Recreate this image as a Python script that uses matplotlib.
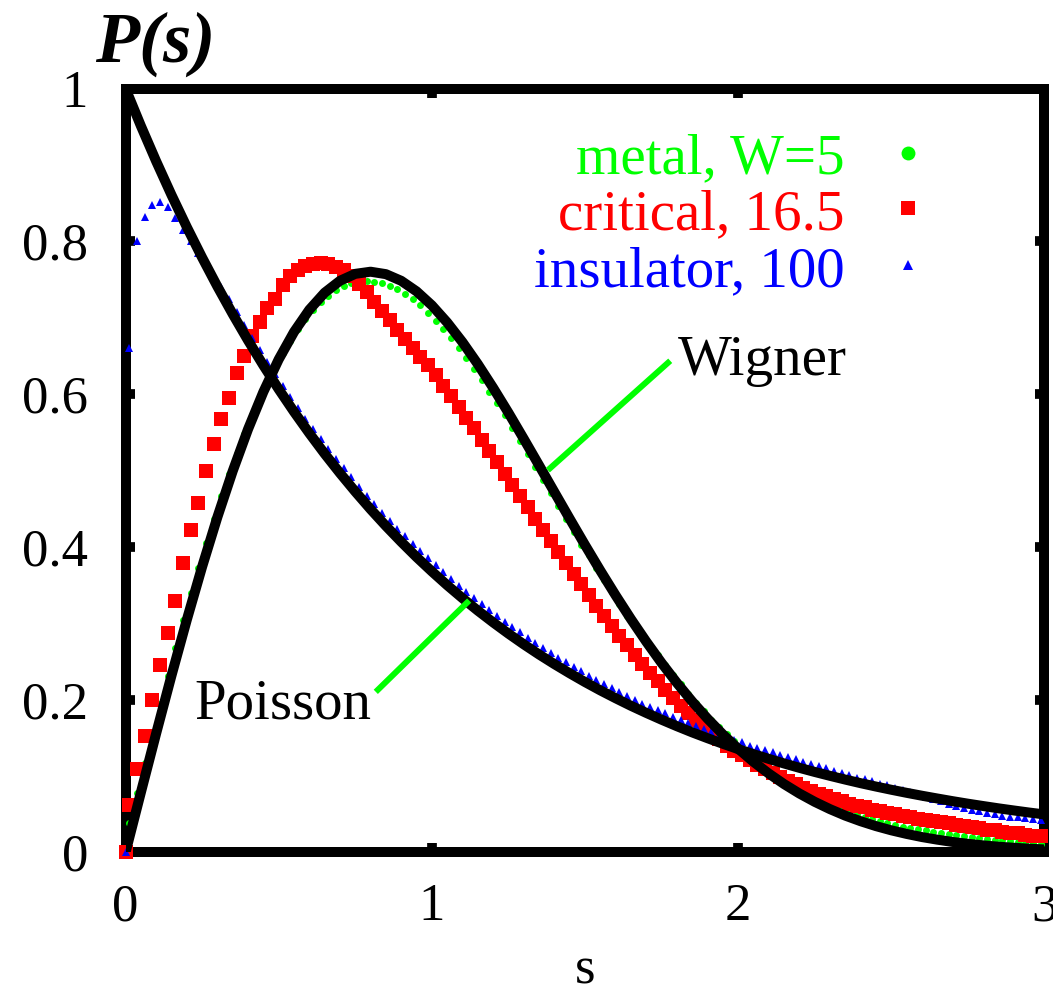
import numpy as np
import matplotlib
matplotlib.use("Agg")
import matplotlib.pyplot as plt

plt.rcParams['font.family'] = ['Liberation Serif', 'DejaVu Serif']

# ---------------- data ----------------
# histogram bins: s = 0 plus bin centres 0.0125, 0.0375, ..., 2.9875
s_bins = np.concatenate([[0.0], np.round(0.0125 + 0.025 * np.arange(120), 4)])

metal = [0.0,
    0.039, 0.078, 0.117, 0.156, 0.194, 0.231, 0.268, 0.304, 0.339, 0.373,
    0.405, 0.436, 0.466, 0.495, 0.522, 0.548, 0.572, 0.595, 0.616, 0.636,
    0.654, 0.670, 0.685, 0.698, 0.710, 0.720, 0.729, 0.736, 0.741, 0.745,
    0.747, 0.748, 0.747, 0.745, 0.741, 0.737, 0.731, 0.724, 0.716, 0.706,
    0.696, 0.685, 0.673, 0.660, 0.647, 0.633, 0.618, 0.603, 0.588, 0.572,
    0.556, 0.539, 0.522, 0.505, 0.488, 0.471, 0.454, 0.437, 0.420, 0.403,
    0.390, 0.373, 0.357, 0.341, 0.325, 0.310, 0.296, 0.282, 0.270, 0.258,
    0.245, 0.232, 0.220, 0.208, 0.196, 0.185, 0.174, 0.164, 0.155, 0.146,
    0.137, 0.129, 0.121, 0.113, 0.106, 0.099, 0.093, 0.087, 0.081, 0.076,
    0.071, 0.066, 0.062, 0.058, 0.054, 0.050, 0.047, 0.044, 0.041, 0.038,
    0.036, 0.034, 0.032, 0.031, 0.029, 0.027, 0.026, 0.024, 0.023, 0.022,
    0.020, 0.019, 0.018, 0.017, 0.016, 0.015, 0.014, 0.013, 0.012, 0.011]

critical = [0.0,
    0.062, 0.109, 0.153, 0.199, 0.245, 0.287, 0.329, 0.379, 0.422, 0.457,
    0.499, 0.535, 0.568, 0.595, 0.628, 0.650, 0.676, 0.695, 0.713, 0.725,
    0.743, 0.754, 0.762, 0.768, 0.770, 0.771, 0.770, 0.767, 0.762, 0.754,
    0.744, 0.733, 0.721, 0.709, 0.697, 0.684, 0.672, 0.660, 0.649, 0.638,
    0.625, 0.611, 0.597, 0.583, 0.569, 0.555, 0.540, 0.526, 0.511, 0.496,
    0.481, 0.466, 0.452, 0.437, 0.422, 0.408, 0.393, 0.379, 0.365, 0.351,
    0.337, 0.323, 0.310, 0.297, 0.284, 0.271, 0.259, 0.247, 0.235, 0.224,
    0.213, 0.202, 0.192, 0.182, 0.173, 0.164, 0.156, 0.148, 0.140, 0.133,
    0.127, 0.121, 0.115, 0.109, 0.104, 0.099, 0.094, 0.090, 0.085, 0.081,
    0.077, 0.074, 0.070, 0.067, 0.064, 0.061, 0.059, 0.056, 0.054, 0.052,
    0.050, 0.048, 0.046, 0.044, 0.043, 0.041, 0.040, 0.038, 0.036, 0.035,
    0.033, 0.032, 0.030, 0.029, 0.027, 0.026, 0.025, 0.023, 0.022, 0.021]

insulator = [0.0,
    0.660, 0.800, 0.832, 0.848, 0.852, 0.845, 0.830, 0.815, 0.800, 0.785,
    0.770, 0.755, 0.740, 0.724, 0.708, 0.691, 0.674, 0.658, 0.642, 0.626,
    0.611, 0.596, 0.582, 0.568, 0.554, 0.541, 0.528, 0.515, 0.503, 0.491,
    0.479, 0.467, 0.456, 0.445, 0.434, 0.424, 0.414, 0.404, 0.394, 0.385,
    0.376, 0.367, 0.358, 0.349, 0.341, 0.333, 0.325, 0.317, 0.309, 0.302,
    0.295, 0.288, 0.281, 0.274, 0.268, 0.261, 0.255, 0.249, 0.243, 0.237,
    0.231, 0.226, 0.220, 0.215, 0.210, 0.205, 0.200, 0.195, 0.191, 0.186,
    0.182, 0.178, 0.174, 0.170, 0.166, 0.162, 0.158, 0.154, 0.151, 0.147,
    0.144, 0.140, 0.137, 0.134, 0.131, 0.128, 0.125, 0.122, 0.119, 0.116,
    0.113, 0.110, 0.107, 0.104, 0.101, 0.098, 0.096, 0.093, 0.090, 0.088,
    0.085, 0.082, 0.079, 0.076, 0.073, 0.070, 0.067, 0.064, 0.061, 0.058,
    0.056, 0.054, 0.052, 0.050, 0.048, 0.047, 0.046, 0.045, 0.044, 0.043]

# reference curves, sampled every 0.05 in s
s_curve = np.round(0.05 * np.arange(61), 2)
wigner = [
    0.0000, 0.0784, 0.1558, 0.2315, 0.3044, 0.3739, 0.4391, 0.4993, 0.5541, 0.6029,
    0.6454, 0.6813, 0.7104, 0.7327, 0.7483, 0.7574, 0.7602, 0.7570, 0.7483, 0.7345,
    0.7162, 0.6938, 0.6680, 0.6393, 0.6083, 0.5756, 0.5415, 0.5068, 0.4718, 0.4369,
    0.4025, 0.3690, 0.3366, 0.3055, 0.2760, 0.2481, 0.2220, 0.1976, 0.1752, 0.1546,
    0.1358, 0.1187, 0.1033, 0.0895, 0.0772, 0.0663, 0.0567, 0.0482, 0.0409, 0.0345,
    0.0290, 0.0243, 0.0202, 0.0168, 0.0138, 0.0114, 0.0093, 0.0076, 0.0062, 0.0050,
    0.0040]
poisson = [
    1.0000, 0.9512, 0.9048, 0.8607, 0.8187, 0.7788, 0.7408, 0.7047, 0.6703, 0.6376,
    0.6065, 0.5769, 0.5488, 0.5220, 0.4966, 0.4724, 0.4493, 0.4274, 0.4066, 0.3867,
    0.3679, 0.3499, 0.3329, 0.3166, 0.3012, 0.2865, 0.2725, 0.2592, 0.2466, 0.2346,
    0.2231, 0.2122, 0.2019, 0.1920, 0.1827, 0.1738, 0.1653, 0.1572, 0.1496, 0.1423,
    0.1353, 0.1287, 0.1225, 0.1165, 0.1108, 0.1054, 0.1003, 0.0954, 0.0907, 0.0863,
    0.0821, 0.0781, 0.0743, 0.0707, 0.0672, 0.0639, 0.0608, 0.0578, 0.0550, 0.0523,
    0.0498]

labels = ['metal, W=5', 'critical, 16.5', 'insulator, 100']
colors = ['#00ff00', '#ff0000', '#0000ff']
markers = ['o', 's', '^']
msizes = [5, 9.5, 6]
key_sizes = [10, 10, 7]

x_ticks = [0, 1, 2, 3]
y_ticks = [0, 0.2, 0.4, 0.6, 0.8, 1]

# ---------------- figure ----------------
fig = plt.figure(figsize=(10.53, 9.9), dpi=100)
ax = fig.add_axes([0.1192, 0.1389, 0.9919 - 0.1192, 0.9106 - 0.1389])

for ys, c, m, ms in zip([metal, critical, insulator], colors, markers, msizes):
    ax.plot(s_bins, ys, ls='none', marker=m, ms=ms, color=c, mec=c,
            mew=0, zorder=2.6, clip_on=False)

ax.plot(s_curve, wigner, color='black', lw=7.2, solid_capstyle='butt', zorder=3)
ax.plot(s_curve, poisson, color='black', lw=7.2, solid_capstyle='butt', zorder=3)

# pointers from the labels to the curves
ax.plot([1.771, 1.386], [0.641, 0.503], color='#00ff00', lw=4.3, zorder=4)
ax.plot([0.824, 1.115], [0.213, 0.327], color='#00ff00', lw=4.3, zorder=4)
ax.text(1.804, 0.625, 'Wigner', fontsize=41, ha='left', va='baseline')
ax.text(0.224, 0.176, 'Poisson', fontsize=41, ha='left', va='baseline')

# key, right-aligned text with marker to the right
key_y = [0.889, 0.816, 0.7415]
for lab, c, m, ks, yy in zip(labels, colors, markers, key_sizes, key_y):
    ax.text(0.782, yy, lab, color=c, fontsize=41, ha='right', va='baseline',
            transform=ax.transAxes)
    ax.plot([0.852], [yy + 0.027], ls='none', marker=m, ms=ks, color=c, mew=0,
            transform=ax.transAxes, clip_on=False)

ax.set_xlim(0, 3)
ax.set_ylim(0, 1)
ax.set_xticks(x_ticks)
ax.set_xticklabels([f'{v:g}' for v in x_ticks])
ax.set_yticks(y_ticks)
ax.set_yticklabels([f'{v:g}' for v in y_ticks])
ax.tick_params(direction='in', length=6.5, width=7, top=True, right=True,
               labelsize=38)
ax.tick_params(axis='x', pad=22)
ax.tick_params(axis='y', pad=27)
for sp in ax.spines.values():
    sp.set_linewidth(7.2)

ax.set_xlabel('s', fontsize=38)
ax.xaxis.set_label_coords(0.5, -0.172)
ax.xaxis.label.set_va('baseline')

ax.text(-0.033, 1.0347, 'P(s)', transform=ax.transAxes, fontsize=52,
        fontweight='bold', fontstyle='italic', ha='left', va='baseline')

fig.savefig('out.png', dpi=100)
